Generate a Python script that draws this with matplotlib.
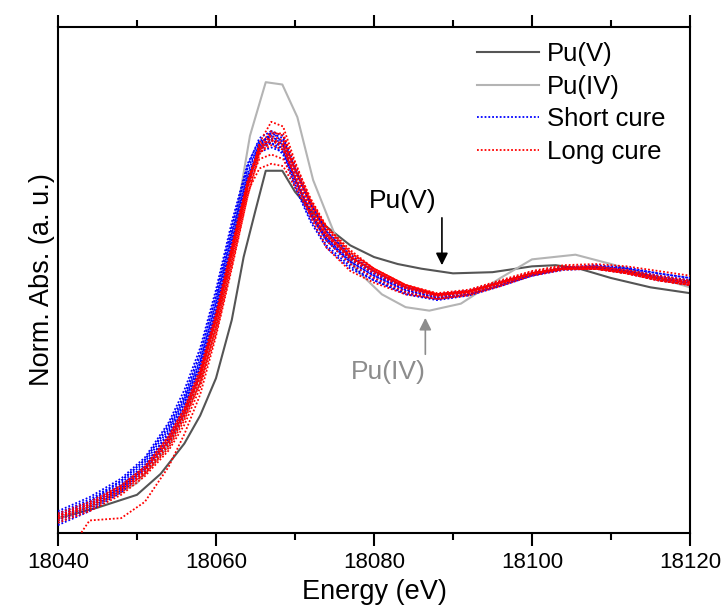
import numpy as np
import matplotlib
matplotlib.use('Agg')
import matplotlib.pyplot as plt

plt.rcParams['font.family'] = ['Liberation Sans', 'DejaVu Sans']

# Reference spectra
pu5_e = [18040, 18045, 18050, 18053, 18056, 18058, 18060, 18062, 18063.5, 18065, 18066.3,
         18068.4, 18070, 18072, 18074, 18077, 18080, 18083, 18086, 18090, 18095, 18100,
         18103, 18106, 18110, 18115, 18120]
pu5 = [0.0, 0.045, 0.10, 0.19, 0.32, 0.44, 0.60, 0.85, 1.12, 1.32, 1.49,
       1.49, 1.40, 1.32, 1.25, 1.17, 1.12, 1.09, 1.07, 1.05, 1.055, 1.08,
       1.085, 1.07, 1.03, 0.99, 0.965]

pu4_e = [18040, 18045, 18050, 18054, 18058, 18060, 18062, 18063, 18064.3, 18066.3, 18068.4,
         18070.3, 18072.3, 18075, 18077.8, 18081, 18084, 18087, 18091, 18096, 18100,
         18105.5, 18110, 18116, 18120]
pu4 = [0.0, 0.06, 0.15, 0.31, 0.58, 0.82, 1.12, 1.38, 1.64, 1.87, 1.86,
       1.72, 1.45, 1.22, 1.064, 0.96, 0.905, 0.89, 0.92, 1.03, 1.11,
       1.13, 1.09, 1.03, 0.99]

# Sample spectra, common energy grid
energy = [18040, 18044, 18048, 18051, 18054, 18056, 18058, 18060, 18062, 18064, 18065.5,
          18067, 18068.5, 18070, 18072, 18074, 18077, 18080, 18084, 18088, 18092, 18096,
          18100, 18104, 18108, 18112, 18116, 18120]

short_cure = [
    [0.01, 0.07, 0.15, 0.24, 0.38, 0.51, 0.68, 0.93, 1.22, 1.48, 1.61, 1.64, 1.60, 1.45,
     1.30, 1.19, 1.10, 1.04, 0.98, 0.95, 0.97, 1.01, 1.05, 1.07, 1.08, 1.06, 1.03, 1.01],
    [0.02, 0.08, 0.16, 0.25, 0.40, 0.53, 0.71, 0.96, 1.25, 1.51, 1.63, 1.66, 1.61, 1.46,
     1.30, 1.19, 1.09, 1.03, 0.97, 0.94, 0.96, 1.00, 1.04, 1.07, 1.08, 1.07, 1.04, 1.02],
    [-0.01, 0.05, 0.13, 0.22, 0.35, 0.48, 0.65, 0.89, 1.18, 1.45, 1.59, 1.62, 1.60, 1.47,
     1.32, 1.21, 1.11, 1.05, 0.99, 0.96, 0.975, 1.01, 1.05, 1.07, 1.07, 1.05, 1.02, 1.00],
    [0.00, 0.06, 0.14, 0.23, 0.36, 0.49, 0.66, 0.90, 1.19, 1.46, 1.57, 1.59, 1.57, 1.45,
     1.31, 1.20, 1.10, 1.04, 0.975, 0.945, 0.96, 1.00, 1.04, 1.065, 1.07, 1.06, 1.03, 1.01],
    [0.03, 0.09, 0.17, 0.26, 0.41, 0.55, 0.73, 0.98, 1.27, 1.52, 1.62, 1.63, 1.58, 1.43,
     1.28, 1.17, 1.08, 1.02, 0.96, 0.935, 0.955, 0.995, 1.04, 1.07, 1.08, 1.07, 1.05, 1.03],
    [0.00, 0.05, 0.13, 0.21, 0.34, 0.46, 0.63, 0.87, 1.16, 1.44, 1.60, 1.65, 1.63, 1.49,
     1.34, 1.22, 1.12, 1.06, 0.99, 0.96, 0.975, 1.015, 1.055, 1.075, 1.075, 1.055, 1.025, 1.005],
    [0.01, 0.06, 0.14, 0.22, 0.37, 0.50, 0.67, 0.92, 1.21, 1.47, 1.58, 1.61, 1.58, 1.46,
     1.31, 1.20, 1.11, 1.05, 0.985, 0.95, 0.965, 1.005, 1.045, 1.07, 1.075, 1.06, 1.035, 1.015],
    [-0.02, 0.04, 0.12, 0.21, 0.33, 0.46, 0.62, 0.86, 1.15, 1.43, 1.58, 1.63, 1.62, 1.50,
     1.35, 1.23, 1.13, 1.06, 0.99, 0.955, 0.97, 1.01, 1.05, 1.07, 1.07, 1.055, 1.03, 1.01],
    [-0.03, 0.03, 0.11, 0.20, 0.32, 0.44, 0.61, 0.85, 1.14, 1.42, 1.59, 1.66, 1.64, 1.51,
     1.35, 1.23, 1.12, 1.05, 0.98, 0.945, 0.96, 1.00, 1.045, 1.07, 1.075, 1.06, 1.04, 1.02],
    [0.02, 0.07, 0.16, 0.25, 0.39, 0.52, 0.70, 0.95, 1.24, 1.50, 1.60, 1.61, 1.56, 1.42,
     1.27, 1.16, 1.07, 1.02, 0.965, 0.94, 0.96, 1.00, 1.045, 1.075, 1.085, 1.075, 1.05, 1.03],
]

long_cure = [
    [0.00, 0.05, 0.12, 0.20, 0.32, 0.44, 0.60, 0.84, 1.13, 1.43, 1.60, 1.66, 1.64, 1.50,
     1.34, 1.22, 1.12, 1.06, 0.99, 0.955, 0.97, 1.01, 1.05, 1.07, 1.07, 1.05, 1.02, 1.00],
    [-0.01, 0.04, 0.11, 0.19, 0.30, 0.42, 0.58, 0.81, 1.10, 1.41, 1.61, 1.70, 1.68, 1.53,
     1.36, 1.24, 1.13, 1.07, 1.00, 0.96, 0.975, 1.015, 1.055, 1.08, 1.08, 1.06, 1.03, 1.01],
    [0.01, 0.06, 0.13, 0.21, 0.33, 0.45, 0.61, 0.85, 1.14, 1.42, 1.54, 1.56, 1.54, 1.44,
     1.31, 1.21, 1.12, 1.06, 0.995, 0.96, 0.975, 1.01, 1.05, 1.07, 1.07, 1.05, 1.02, 1.00],
    [0.00, 0.05, 0.12, 0.19, 0.31, 0.43, 0.58, 0.82, 1.11, 1.40, 1.50, 1.52, 1.51, 1.42,
     1.30, 1.19, 1.09, 1.03, 0.97, 0.94, 0.955, 0.995, 1.04, 1.065, 1.07, 1.055, 1.03, 1.01],
    [0.01, 0.06, 0.13, 0.21, 0.34, 0.46, 0.62, 0.86, 1.15, 1.44, 1.59, 1.64, 1.62, 1.49,
     1.35, 1.24, 1.14, 1.07, 1.00, 0.965, 0.98, 1.02, 1.06, 1.085, 1.09, 1.08, 1.06, 1.04],
    [-0.02, 0.03, 0.10, 0.18, 0.29, 0.40, 0.56, 0.79, 1.08, 1.38, 1.57, 1.65, 1.65, 1.52,
     1.37, 1.25, 1.14, 1.07, 1.00, 0.96, 0.97, 1.01, 1.05, 1.07, 1.07, 1.05, 1.02, 1.00],
    [-0.21, -0.01, 0.00, 0.07, 0.22, 0.36, 0.53, 0.78, 1.07, 1.38, 1.56, 1.62, 1.61, 1.50,
     1.36, 1.25, 1.15, 1.07, 1.00, 0.96, 0.97, 1.01, 1.05, 1.07, 1.07, 1.05, 1.02, 1.00],
    [0.02, 0.07, 0.14, 0.22, 0.35, 0.47, 0.63, 0.87, 1.16, 1.44, 1.58, 1.62, 1.59, 1.46,
     1.29, 1.16, 1.06, 1.01, 0.96, 0.94, 0.96, 1.00, 1.045, 1.07, 1.075, 1.06, 1.035, 1.015],
    [0.01, 0.06, 0.14, 0.22, 0.35, 0.47, 0.64, 0.88, 1.17, 1.45, 1.59, 1.63, 1.60, 1.47,
     1.32, 1.21, 1.11, 1.05, 0.985, 0.95, 0.965, 1.005, 1.05, 1.075, 1.08, 1.065, 1.04, 1.02],
    [0.00, 0.05, 0.12, 0.20, 0.33, 0.45, 0.61, 0.85, 1.14, 1.43, 1.57, 1.60, 1.58, 1.47,
     1.33, 1.22, 1.12, 1.06, 0.99, 0.955, 0.97, 1.01, 1.05, 1.07, 1.07, 1.055, 1.025, 1.005],
]

fig = plt.figure(figsize=(7.21, 6.12), dpi=100)
ax = fig.add_axes([0.0804, 0.129, 0.8766, 0.827])

ax.plot(pu5_e, pu5, color='#555555', lw=1.5, label='Pu(V)', zorder=2)
ax.plot(pu4_e, pu4, color='#b4b4b4', lw=1.5, label='Pu(IV)', zorder=2)

dots = (0, (1, 1.1))
for i, s in enumerate(short_cure):
    ax.plot(energy, s, color='blue', lw=1.3, ls=dots, zorder=3,
            label='Short cure' if i == 0 else None)
for i, s in enumerate(long_cure):
    ax.plot(energy, s, color='red', lw=1.3, ls=dots, zorder=4,
            label='Long cure' if i == 0 else None)

# arrows pointing at the reference features
ax.annotate('', xy=(18088.6, 1.073), xytext=(18088.6, 1.30),
            arrowprops=dict(arrowstyle='-|>', color='black', lw=1.2, mutation_scale=18))
ax.text(18083.6, 1.36, 'Pu(V)', fontsize=19, ha='center', va='center')
ax.annotate('', xy=(18086.5, 0.871), xytext=(18086.5, 0.691),
            arrowprops=dict(arrowstyle='-|>', color='#8c8c8c', lw=1.2, mutation_scale=18))
ax.text(18081.8, 0.627, 'Pu(IV)', fontsize=19, ha='center', va='center', color='#8c8c8c')

ax.set_xlim(18040, 18120)
ax.set_ylim(-0.064, 2.107)
ax.set_xticks([18040, 18060, 18080, 18100, 18120])
ax.set_xticks(np.arange(18050, 18120, 20), minor=True)
ax.set_yticks([])
ax.tick_params(axis='x', which='both', direction='out', top=True, labeltop=False,
               width=1.5, labelsize=16, pad=5)
ax.tick_params(axis='x', which='major', length=9)
ax.tick_params(axis='x', which='minor', length=5)
for sp in ax.spines.values():
    sp.set_linewidth(1.5)

ax.set_xlabel('Energy (eV)', fontsize=19.5, labelpad=4)
ax.set_ylabel('Norm. Abs. (a. u.)', fontsize=19.5, labelpad=2)

ax.legend(loc='upper right', frameon=False, fontsize=18.5, handlelength=2.4,
          handletextpad=0.3, labelspacing=0.33, borderaxespad=0.2,
          bbox_to_anchor=(0.985, 1.0))

fig.savefig('out.png', dpi=100)
